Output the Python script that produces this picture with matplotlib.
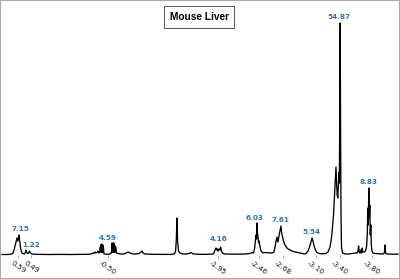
import matplotlib.pyplot as plt
from matplotlib.patches import Rectangle

# spectrum trace (position along axis, intensity above baseline)
pos = [2, 8, 12, 13, 14, 15, 16, 17, 17.6, 18.2, 19, 19.5, 20, 20.6, 21.3, 22, 23, 24.5, 25.5, 26, 26.5,
       27.5, 28.5, 29.5, 30.5, 32, 34, 40, 50, 60, 70, 80, 88, 91, 93, 94, 95, 96, 97, 98, 99, 100,
       100.3, 100.6, 100.9, 101.2, 101.5, 101.8, 102.1, 102.4, 102.7, 103, 103.3, 104, 106, 109, 111,
       111.6, 112, 112.3, 112.6, 112.9, 113.2, 113.5, 113.8, 114.1, 114.4, 114.7, 115, 115.3, 115.6,
       116.5, 118, 121, 124, 126, 128, 130, 133,
       136, 139, 141, 142, 143, 145, 150, 160, 170, 174, 175.5, 176.3, 177, 177.6, 178.5, 180, 183,
       187, 189, 191, 193, 197, 205, 213, 214, 215, 216, 217, 217.5, 218, 219, 220, 220.6, 221.2, 222,
       223, 225, 235, 245, 250, 252, 253.5, 254.5, 255.3, 256, 256.5, 257, 257.5, 258, 258.6, 259.2,
       260, 261, 262, 263, 265, 268, 271, 273, 274, 275, 276, 277, 277.7, 278.5, 279.5, 280.5, 281,
       281.6, 282.5, 283.5, 285, 287, 289, 292, 295, 298, 302, 305, 306, 308, 309.5, 311, 312, 313,
       314, 315.5, 317, 319, 322, 326, 328, 330, 331, 332, 333.5, 334.5, 335.5, 336, 336.6, 337.2,
       337.8, 338.4, 339, 339.4, 339.8, 340.2, 340.6, 341, 341.5, 342.5, 345, 349, 352, 355, 357, 358,
       358.6, 359.2, 360, 361, 361.6, 362.2, 362.8, 364, 365.5, 366.5, 367.3, 367.8, 368.3, 368.8,
       369.3, 369.8, 370.3, 370.8, 371.3, 372, 373, 375, 379, 383, 384.4, 385, 385.6, 387, 392, 398]
inten = [0.5, 0.5, 1, 2, 5, 9, 13, 17, 14, 16, 20, 15, 12, 7, 4, 2, 1.5, 1, 3, 5, 3,
         1.5, 2, 4, 2, 1, 0.8, 0.6, 0.5, 0.6, 0.5, 0.6, 0.7, 1, 2, 1.5, 3, 2, 2.5, 4, 2, 4,
         8, 3, 10, 3, 11, 3, 10, 3, 10, 3, 9, 1, 0.8, 0.8, 1.5,
         4, 12, 3, 11, 3, 12, 3, 12, 3, 10, 3, 9, 3, 8,
         2, 1.5, 1, 1, 2, 3, 2, 1,
         1, 1.5, 3, 4, 2, 1, 0.8, 0.6, 0.6, 1, 3, 15, 37, 14, 4, 2, 1,
         1, 1.5, 2.5, 1.2, 0.8, 0.6, 1, 2, 5, 7, 5, 6, 4, 6, 5, 8, 5, 3,
         1.5, 1, 0.8, 1, 1.5, 2.5, 2, 6, 14, 20, 16, 32, 22, 18, 12, 14,
         8, 4, 3, 2, 2.5, 2.2, 2, 2.3, 3, 8, 14, 18, 13, 16, 22, 27, 29,
         22, 18, 14, 10, 7, 5.5, 4, 3, 2.5, 1.5, 1, 1.5, 4, 8, 13, 17, 14,
         9, 5, 2.5, 1.5, 1.2, 1.5, 3, 8, 14, 22, 40, 60, 80, 88, 72, 60,
         57, 70, 83, 72, 150, 232, 120, 40, 8, 2, 1, 1, 1.5, 2, 2, 4,
         9, 3, 2, 5, 2, 7, 3, 3, 4, 8, 20, 47, 30, 67,
         38, 50, 20, 30, 10, 4, 2, 1.5, 1.2, 1, 2, 10, 2, 1, 0.8, 0.8]

# peak annotations
peak_text = ["7.15", "1.22", "4.59", "4.16", "6.03", "7.61", "5.54", "54.87", "8.83"]
peak_x = [20, 31, 108, 219, 254, 280, 311, 339, 369]
peak_y = [26, 10, 17, 16, 37, 35, 23, 238, 73]

# chemical shift labels under the axis
tick_pos = [18, 31, 108, 218, 259, 283, 316, 340, 372]
tick_lab = ["0.59", "0.49", "-0.50", "-1.95", "-2.46", "-2.68", "-3.10", "-3.40", "-3.80"]

fig = plt.figure(figsize=(4, 2.79), dpi=100)
ax = fig.add_axes([0, 24 / 279, 1, 255 / 279])
ax.plot(pos, inten, color="black", lw=0.95, clip_on=False)
ax.set_xlim(0, 400)
ax.set_ylim(0, 255)
for s in ax.spines.values():
    s.set_visible(False)
ax.set_yticks([])
ax.set_xticks(tick_pos, tick_lab)
ax.tick_params(axis="x", length=2, width=0.5, color="#888888", pad=1.5,
               labelsize=5.3, labelcolor="#1a1a1a")
for lab in ax.get_xticklabels():
    lab.set_rotation(-35)
    lab.set_ha("center")

for t, x, y in zip(peak_text, peak_x, peak_y):
    ax.text(x, y, t, color="#2e75b6", fontsize=5.2, fontweight="bold",
            ha="center", va="center")

fig.text(0.4975, 1 - 17 / 279, "Mouse Liver", fontsize=7.3, fontweight="bold",
         family="Liberation Sans", ha="center", va="center",
         bbox=dict(boxstyle="square,pad=0.55", fc="white", ec="#555555", lw=0.7))

fig.patches.append(Rectangle((0, 0), 1, 1, transform=fig.transFigure, fill=False,
                             ec="#aaaaaa", lw=1.5))

fig.savefig("out.png", dpi=100)
